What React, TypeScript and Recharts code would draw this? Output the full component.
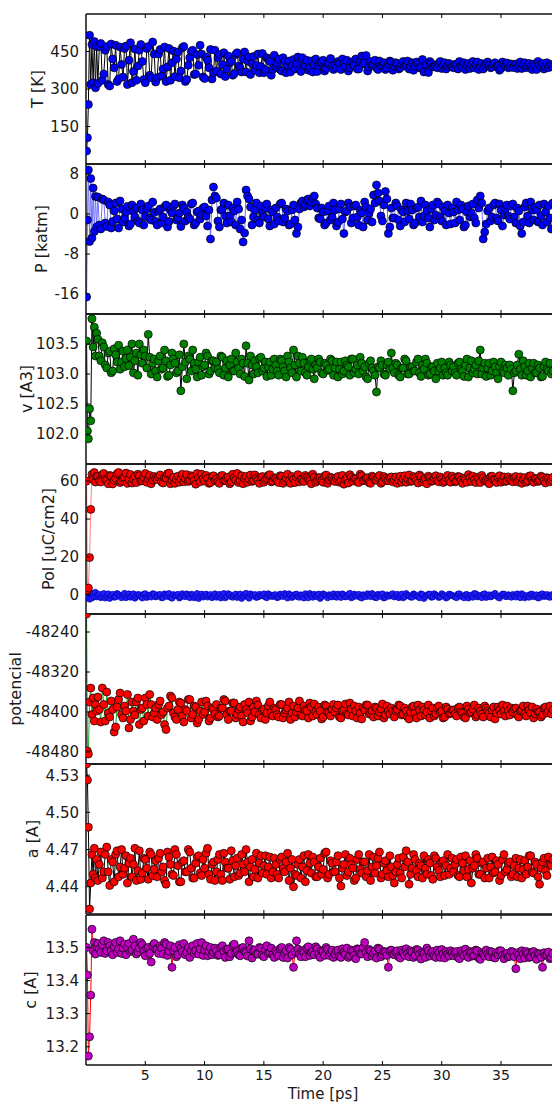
import React from 'react';
import { LineChart, Line, XAxis, YAxis } from 'recharts';

const FONT = '"DejaVu Sans", Verdana, sans-serif';
const W = 552;
const PLOT_H = 150;
const Y_AXIS_W = 86;
const T_MAX = 39.3;
const X_TICKS = [5, 10, 15, 20, 25, 30, 35];

// sample times: dense points in the first ps, then every 0.25 ps (+ the half-step samples in *_MID)
const EARLY_T = [0.05, 0.12, 0.2, 0.3, 0.4, 0.5, 0.6, 0.7, 0.8, 0.9];
const STEP_PS = 0.25;
const N_MAIN = 154;

const T_K = [
  52, 105, 238, 515, 318, 478, 325, 490, 305, 470,
  322, 482, 360, 470, 312, 420, 475, 340, 398, 462,
  318, 485, 370, 335, 455, 410, 325, 470, 345, 440,
  345, 458, 380, 330, 462, 405, 350, 448, 372, 470,
  338, 425, 455, 360, 395, 440, 342, 415, 458, 365,
  372, 438, 398, 350, 432, 410, 362, 445, 385, 420,
  368, 428, 402, 375, 440, 390, 365, 425, 410, 378,
  388, 420, 372, 410, 395, 368, 418, 400, 380, 425,
  392, 375, 412, 398, 370, 405, 415, 382, 400, 390,
  395, 410, 378, 402, 415, 385, 398, 420, 380, 432,
  405, 372, 410, 398, 385, 412, 395, 378, 400, 408,
  390, 402, 385, 410, 395, 380, 405, 392, 400, 385,
  368, 398, 410, 388, 395, 402, 382, 405, 392, 398,
  385, 400, 410, 390, 378, 402, 395, 385, 408, 392,
  380, 400, 396, 388, 405, 392, 382, 398, 404, 390,
  386, 400, 395, 382, 405, 392, 388, 400, 378, 396,
  402, 390, 385, 398,
];
const T_MID = [
  470, 335, 455, 318, 480, 385, 330, 468, 348, 472,
  415, 325, 460, 392, 478, 338, 462, 355, 488, 328,
  440, 352, 468, 388, 335, 452, 420, 345, 465, 330,
  395, 450, 358, 438, 475, 348, 428, 385, 340, 455,
  425, 360, 445, 380, 405, 355, 438, 392, 368, 448,
  412, 358, 430, 395, 365, 442, 378, 418, 355, 435,
  402, 378, 425, 365, 412, 392, 380, 428, 370, 398,
  415, 385, 368, 420, 395, 410, 372, 405, 422, 378,
  385, 402, 420, 390, 372, 408, 395, 380, 412, 400,
  434, 388, 395, 415, 378, 392, 405, 385, 412, 375,
  405, 380, 398, 392, 412, 388, 375, 408, 385, 418,
  395, 366, 402, 392, 385, 410, 395, 380, 402, 388,
  398, 380, 392, 405, 395, 382, 410, 398, 378, 402,
  392, 408, 385, 400, 390, 375, 408, 392, 385, 400,
  395, 382, 408, 398, 385, 402, 378, 392, 410, 388,
  380, 405, 395, 388,
];

const P_KATM = [
  -16.6, -1.2, 8.8, -5.5, 7.1, -4.8, 5.2, -3.5, 3.5, -2.6,
  3.4, -3.0, 2.8, -2.5, 1.8, -1.5, 2.2, -2.8, 1.0, -0.8,
  1.5, -2.0, 0.5, 1.2, -1.8, 0.8, -0.5, 1.6, -1.2, 0.3,
  -2.2, 1.0, -0.6, 1.8, -1.5, 0.2, 2.0, -0.8, -2.5, 1.2,
  0.4, -1.0, 2.2, -1.8, 0.6, -0.2, 1.4, -2.4, -5.0, 5.4,
  3.2, -2.6, 1.0, -0.4, 1.8, -1.6, 0.6, 2.4, -3.0, -5.6,
  4.8, 3.0, -2.2, 0.8, -1.2, 1.6, -0.6, 2.0, -2.4, 0.4,
  1.2, -1.4, 2.2, -0.8, 0.6, -2.0, 1.8, -3.9, 1.0, 2.6,
  1.8, 3.0, 2.4, 3.6, 1.2, -1.0, 0.4, -1.8, 1.6, -0.6,
  0.8, -1.6, 2.0, -3.9, 0.6, 1.4, -0.8, 1.8, -2.2, 0.2,
  2.4, -1.2, 1.0, 3.8, 5.8, 2.6, -1.4, 4.5, -3.9, 1.2,
  -0.8, 1.6, -2.4, 0.4, 2.2, -1.0, 0.8, -1.8, 1.4, 2.6,
  -0.4, 0.6, -2.6, 1.8, -0.2, 2.0, -1.4, 0.6, 1.8, -2.0,
  0.4, 2.4, -1.2, 1.0, -2.2, 1.6, 0.2, -0.8, 2.8, 3.6,
  -5.0, -2.0, 1.2, -0.6, 2.2, -1.4, 0.8, -0.2, 1.8, -1.0,
  2.0, -1.8, 0.6, -3.9, 1.4, -0.4, 2.4, -1.2, 0.8, 1.8,
  -2.2, 0.4, 1.6, -3.0,
];
const P_MID = [
  -2.2, 3.0, -1.8, 2.4, -2.8, 0.6, -1.0, 2.6, -1.6, 0.4,
  -2.4, 1.8, -0.6, -1.4, 2.0, -2.2, 1.0, -0.8, 2.4, -1.5,
  0.6, -1.8, 1.4, -2.6, 0.8, 1.6, -1.2, 0.2, 1.8, -1.4,
  -0.6, 2.0, -2.2, 0.4, -1.0, 1.2, -0.4, 0.8, 2.8, 3.6,
  -1.4, 0.8, 2.2, -1.8, -0.4, 1.2, -2.2, 1.0, -1.2, -3.8,
  3.6, 1.4, -0.6, 2.2, -1.8, 0.2, 1.2, -1.0, 0.8, -2.0,
  -0.6, 2.0, -1.6, 1.0, -2.2, 0.8, -1.2, -2.6, 2.2, 1.4,
  2.8, 1.6, 3.2, 2.0, -0.8, 1.2, -2.2, 0.6, -1.2, 2.2,
  -2.4, 1.0, -1.0, 0.4, 2.2, -1.8, 1.6, -0.6, 0.8, -2.6,
  1.4, 0.2, -1.6, 2.2, 4.2, -0.4, 1.8, 3.0, -2.6, -0.8,
  2.2, -1.2, 0.8, -1.6, 0.6, 2.0, -2.2, 1.2, -0.6, -1.6,
  1.8, -0.8, 1.0, -1.2, 2.4, -0.6, 1.4, -2.2, 0.2, 1.2,
  -1.8, 0.8, 1.8, -2.6, 0.4, -0.6, 2.0, -1.8, 1.2, 2.2,
  -3.6, 0.6, -1.4, 1.8, -0.8, 2.0, -2.4, 1.0, -0.4, 1.6,
  -0.6, 1.2, -2.4, -1.6, 2.2, -1.8, 0.8, 1.4, -1.6, -0.4,
  2.0, -1.6, -0.8, 2.2,
];

const V_A3 = [
  103.55, 102.05, 101.92, 102.42, 102.22, 103.92, 103.45, 103.78, 103.3, 103.68,
  103.58, 103.22, 103.45, 103.1, 103.38, 103.05, 103.32, 103.48, 103.2, 103.12,
  103.4, 103.28, 103.02, 103.35, 103.5, 103.18, 103.3, 103.66, 103.0, 103.25,
  102.95, 103.3, 103.1, 103.22, 102.98, 103.35, 103.18, 103.05, 102.72, 103.5,
  102.92, 103.25, 103.4, 103.08, 103.2, 102.98, 103.15, 103.3, 103.05, 103.22,
  103.2, 103.02, 103.28, 103.1, 102.95, 103.25, 103.05, 103.2, 103.0, 103.18,
  103.47, 102.9, 103.15, 103.22, 103.02, 103.28, 103.1, 102.96, 103.2, 103.08,
  103.15, 102.98, 103.22, 103.05, 103.3, 103.1, 103.4, 102.95, 103.18, 103.28,
  103.02, 103.12, 103.25, 102.92, 103.1, 103.2, 103.0, 103.15, 103.08, 103.22,
  103.1, 102.95, 103.2, 103.05, 103.15, 102.98, 103.25, 103.08, 103.0, 103.18,
  103.12, 102.92, 103.22, 103.05, 102.7, 103.1, 103.15, 102.98, 103.2, 103.35,
  103.02, 103.15, 102.95, 103.1, 103.22, 103.0, 103.12, 103.05, 103.25, 102.96,
  103.08, 103.18, 103.0, 103.12, 102.92, 103.05, 103.2, 103.1, 102.98, 103.15,
  103.12, 102.98, 103.2, 103.05, 103.15, 102.95, 103.22, 103.08, 103.0, 103.4,
  103.1, 102.96, 103.18, 103.05, 103.12, 102.92, 103.2, 103.02, 103.1, 103.15,
  102.72, 103.05, 103.33, 102.98, 103.12, 103.05, 102.95, 103.18, 103.02, 103.1,
  102.96, 103.2, 103.05, 103.0,
];
const V_MID = [
  103.3, 103.52, 103.15, 103.35, 103.02, 103.42, 103.2, 103.08, 103.38, 103.26,
  103.14, 103.5, 103.22, 102.98, 103.32, 103.4, 103.1, 103.28, 103.18, 103.05,
  103.22, 103.08, 103.4, 102.96, 103.15, 103.25, 103.02, 103.32, 103.12, 103.2,
  103.3, 103.05, 103.18, 102.95, 103.28, 103.12, 103.35, 103.0, 103.22, 103.1,
  103.08, 103.3, 102.98, 103.22, 103.15, 103.05, 103.35, 103.1, 103.25, 102.96,
  103.18, 103.3, 103.0, 103.12, 103.26, 103.05, 103.2, 103.12, 102.98, 103.25,
  103.05, 103.25, 103.12, 102.95, 103.2, 103.02, 103.15, 103.3, 103.05, 103.18,
  102.98, 103.22, 103.08, 103.15, 103.25, 103.02, 103.18, 103.06, 103.25, 102.98,
  103.2, 103.08, 103.0, 103.22, 103.12, 103.25, 103.02, 103.15, 103.28, 103.05,
  102.95, 103.18, 103.1, 102.98, 103.12, 103.22, 103.0, 103.15, 103.08, 103.1,
  103.18, 102.98, 103.1, 103.25, 103.0, 103.12, 103.05, 103.2, 103.02, 103.15,
  103.25, 102.98, 103.12, 103.05, 103.18, 103.1, 102.98, 103.02, 103.2, 103.05,
  103.02, 103.18, 103.08, 102.96, 103.25, 103.1, 103.02, 103.15, 103.22, 103.0,
  103.18, 103.1, 102.98, 103.2, 103.02, 103.12, 103.05, 103.15, 102.98, 103.08,
  103.02, 103.15, 103.08, 103.22, 102.98, 103.18, 103.1, 103.02, 103.15, 102.95,
  103.12, 103.08, 103.18, 103.05,
];

const POL_Z = [
  60, 2.5, 3.7, 19.7, 45.1, 63.5, 61, 64.5, 59.5, 62.5,
  62.5, 59.5, 64, 60.5, 63, 58.5, 61.5, 64.5, 60, 62,
  58.8, 63.5, 61, 59.2, 62.8, 60.2, 64, 61.2, 58.6, 62.4,
  60.8, 63.2, 59, 61.6, 64.2, 60.4, 58.8, 62.6, 61, 59.6,
  63.4, 60.6, 62.2, 58.4, 61.8, 63.6, 60, 61.4, 59.2, 62.8,
  61.2, 58.8, 63, 60.4, 62.2, 59.6, 61.8, 64, 60.2, 58.6,
  62.4, 61, 59.8, 63.2, 60.6, 62, 59.4, 61.6, 63.4, 60,
  61.4, 59.2, 62.6, 60.2, 63.6, 58.8, 61, 62.2, 59.6, 60.8,
  63, 61.2, 58.6, 62, 60.4, 61.8, 59.4, 63.2, 60.6, 61.6,
  59.8, 62.4, 60.2, 58.4, 61.6, 63.4, 60, 61.2, 59.2, 62.8,
  60.6, 61.8, 58.8, 62, 60.4, 63, 59.6, 61.4, 60.2, 62.2,
  60.6, 58.8, 62.6, 61, 59.4, 63.2, 60.2, 61.6, 59, 62.4,
  60.8, 58.6, 61.8, 60.4, 62.8, 59.6, 61.2, 60, 63, 59.4,
  61.4, 60, 62.2, 58.8, 61, 63.4, 59.8, 60.6, 62, 59.2,
  61.6, 60.4, 58.6, 62.6, 60.8, 61.8, 59.4, 62.2, 60.2, 61,
  59.6, 62.4, 60.6, 58.8, 61.8, 60.2, 62.8, 59.4, 61.2, 60.4,
  62, 59, 61.4, 60.6,
];
const POL_Z_MID = [
  60.2, 63.4, 61, 58.6, 62.6, 60.4, 63.8, 59.2, 61.6, 64.2,
  60.8, 59, 62.4, 63.6, 60, 61.8, 59.4, 63, 60.6, 61.4,
  62.2, 59.6, 61.8, 63.8, 58.6, 62, 60.8, 59.4, 63.6, 61.2,
  59.8, 62.8, 60.2, 64, 59.6, 61.2, 63, 58.8, 62.4, 60.4,
  59.6, 62.6, 60.2, 61.8, 58.6, 63.6, 60.6, 59.2, 62.8, 61.4,
  59.4, 63.2, 60.4, 61.6, 58.8, 62.4, 60.8, 63, 59.6, 61.8,
  60.2, 62.8, 58.8, 61.6, 60, 62.4, 59.2, 63.4, 61, 59.8,
  62, 60.4, 63.6, 59.4, 61.8, 60.2, 62.6, 58.8, 62, 60.6,
  61.6, 59.4, 63, 60.8, 59, 62.2, 61.4, 59.6, 63.6, 60.2,
  61.6, 59.2, 62.6, 60.6, 61.8, 58.8, 62.4, 60.2, 61.8, 59.6,
  62.2, 60.6, 59.4, 62.8, 61.2, 59.8, 62.4, 60.4, 63.2, 59.6,
  61.4, 62.6, 59.8, 61.6, 60.2, 62.2, 59.2, 61.8, 60.6, 62.6,
  59.6, 62.4, 60.4, 61.6, 59.4, 61.8, 62.6, 59.2, 61.2, 63,
  60.2, 59.6, 62.4, 60.6, 59.2, 62.8, 60.6, 59.8, 62.2, 60.4,
  61.8, 59.6, 62.2, 61, 59.4, 62.6, 60.4, 61.4, 59.8, 62.6,
  60.2, 61.8, 59.6, 62,
];

const POL_X = [
  0.5, -1.2, 3.8, -2.2, 1.2, -1.6, 0.6, -0.9, 1.4, -1.0,
  -0.2, -1.4, 0.8, -0.6, -1.8, 0.4, -1.0, 0.2, -1.5, 0.9,
  -0.4, -1.2, 0.6, -0.8, 0.1, -1.6, 0.7, -0.3, -1.1, 0.5,
  -0.7, 0.3, -1.3, -0.1, 0.8, -1.7, -0.5, 0.4, -1.0, -0.2,
  0.6, -1.4, 0.2, -0.8, -1.9, 0.5, -0.4, -1.1, 0.3, -0.6,
  -1.2, 0.4, -0.3, -1.5, 0.7, -0.9, -0.1, -1.3, 0.5, -0.6,
  0.9, -1.7, -0.2, 0.3, -1.0, -0.5, 0.6, -1.4, 0.1, -0.8,
  0.2, -1.1, -0.4, 0.8, -1.6, 0.0, -0.7, 0.5, -1.2, -0.3,
  0.7, -1.5, -0.1, 0.4, -0.9, -1.8, 0.6, -0.5, 0.2, -1.0,
  -0.6, 0.5, -1.3, 0.1, -0.8, 0.9, -1.1, -0.2, 0.4, -1.6,
  -0.4, 0.7, -0.9, 0.2, -1.4, -0.1, 0.6, -1.2, -0.5, 0.3,
  -1.0, 0.4, -0.6, -1.5, 0.8, -0.3, -1.2, 0.2, -0.7, 0.6,
  -1.8, -0.2, 0.5, -1.0, 0.0, -1.3, 0.7, -0.5, -1.1, 0.3,
  -0.4, -1.4, 0.6, -0.8, 0.2, -1.6, -0.1, 0.8, -1.0, -0.5,
  0.4, -1.3, 0.1, -0.7, 0.9, -1.2, -0.3, 0.5, -0.9, -0.2,
  0.3, -1.1, -0.6, 0.7, -1.5, -0.2, 0.4, -0.9, 0.1, -1.3,
  0.6, -0.5, -1.0, 0.2,
];
const POL_X_MID = [
  0.4, -0.9, -1.6, 0.6, -0.3, -1.2, 0.8, -0.7, 0.1, -1.4,
  0.6, -0.5, -1.7, 0.3, -0.9, 0.5, -1.3, -0.1, 0.7, -1.0,
  0.2, -1.5, 0.6, -0.8, -1.2, 0.3, -0.2, -1.6, 0.7, -0.9,
  -0.3, 0.4, -1.5, 0.8, -0.6, -1.1, 0.5, -0.2, -1.4, 0.6,
  -0.4, -1.6, 0.8, -0.7, 0.2, -1.2, 0.5, -0.5, -1.8, 0.3,
  -1.0, 0.6, -0.6, -1.3, 0.4, -0.2, -1.1, 0.7, -0.7, 0.1,
  -1.4, 0.5, -0.8, -0.2, 0.6, -1.3, 0.3, -1.0, 0.1, -1.6,
  -0.4, 0.8, -1.2, -0.5, 0.5, -0.9, 0.2, -1.5, -0.3, 0.6,
  -1.2, -0.3, 0.6, -1.0, 0.3, -1.5, 0.5, -0.7, -1.2, 0.2,
  -0.9, -0.2, 0.8, -1.3, 0.4, -0.8, -1.6, 0.1, -0.6, 0.7,
  -0.3, -1.4, 0.5, -0.9, -0.2, -1.1, 0.6, -0.6, -1.5, 0.3,
  -0.8, 0.4, -1.2, 0.7, -0.5, -1.0, 0.2, -1.6, 0.5, -0.4,
  -1.1, 0.5, -0.7, -1.5, 0.3, -0.4, -1.2, 0.6, -0.2, -1.4,
  0.7, -0.6, -1.0, 0.4, -0.3, -1.6, 0.5, -0.8, 0.2, -1.2,
  -0.5, 0.6, -1.4, 0.1, -0.7, -1.2, 0.5, -0.3, -1.6, 0.4,
  -0.8, 0.3, -1.2, -0.4,
];

const POTENCIAL = [
  -48204, -48478, -48484, -48380, -48352, -48405, -48372, -48418, -48385, -48398,
  -48370, -48420, -48385, -48360, -48410, -48395, -48430, -48375, -48405, -48388,
  -48365, -48415, -48398, -48380, -48425, -48392, -48372, -48408, -48385, -48402,
  -48415, -48378, -48400, -48435, -48388, -48372, -48410, -48395, -48382, -48420,
  -48398, -48375, -48405, -48390, -48415, -48380, -48400, -48388, -48412, -48395,
  -48385, -48408, -48392, -48378, -48415, -48398, -48382, -48405, -48390, -48420,
  -48395, -48380, -48410, -48400, -48386, -48412, -48394, -48402, -48380, -48408,
  -48395, -48410, -48385, -48402, -48392, -48415, -48388, -48400, -48378, -48408,
  -48396, -48412, -48390, -48384, -48405, -48398, -48410, -48388, -48402, -48394,
  -48400, -48386, -48412, -48395, -48404, -48382, -48408, -48398, -48390, -48414,
  -48396, -48386, -48402, -48410, -48392, -48400, -48384, -48406, -48398, -48392,
  -48410, -48395, -48388, -48404, -48398, -48414, -48390, -48402, -48386, -48408,
  -48396, -48400, -48412, -48392, -48404, -48388, -48398, -48410, -48394, -48402,
  -48396, -48408, -48390, -48402, -48412, -48394, -48400, -48386, -48406, -48398,
  -48410, -48392, -48402, -48396, -48414, -48390, -48404, -48398, -48388, -48406,
  -48400, -48392, -48410, -48396, -48404, -48388, -48402, -48412, -48394, -48400,
  -48406, -48390, -48398, -48404,
];
const POTENCIAL_MID = [
  -48395, -48352, -48418, -48402, -48378, -48440, -48390, -48362, -48412, -48398,
  -48432, -48380, -48406, -48372, -48395, -48418, -48385, -48365, -48410, -48392,
  -48385, -48405, -48425, -48392, -48368, -48402, -48415, -48380, -48408, -48395,
  -48375, -48412, -48388, -48422, -48398, -48405, -48378, -48418, -48392, -48404,
  -48410, -48392, -48375, -48405, -48398, -48382, -48412, -48395, -48408, -48385,
  -48402, -48418, -48390, -48378, -48405, -48396, -48415, -48388, -48400, -48392,
  -48405, -48385, -48412, -48396, -48380, -48402, -48410, -48392, -48406, -48388,
  -48398, -48382, -48408, -48400, -48390, -48414, -48386, -48400, -48408, -48385,
  -48392, -48410, -48398, -48384, -48406, -48394, -48388, -48412, -48402, -48392,
  -48386, -48404, -48398, -48390, -48408, -48394, -48412, -48388, -48404, -48398,
  -48398, -48386, -48406, -48392, -48410, -48400, -48388, -48412, -48396, -48390,
  -48406, -48386, -48398, -48408, -48392, -48400, -48412, -48390, -48404, -48396,
  -48404, -48392, -48400, -48410, -48388, -48402, -48394, -48410, -48392, -48404,
  -48388, -48398, -48410, -48390, -48402, -48396, -48386, -48408, -48398, -48392,
  -48394, -48406, -48398, -48388, -48408, -48396, -48390, -48404, -48400, -48410,
  -48392, -48402, -48388, -48396,
];

const A_ANG = [
  4.539, 4.526, 4.488, 4.422, 4.443, 4.466, 4.45, 4.471, 4.447, 4.462,
  4.445, 4.468, 4.452, 4.472, 4.441, 4.46, 4.466, 4.448, 4.47, 4.455,
  4.443, 4.463, 4.458, 4.445, 4.469, 4.451, 4.462, 4.446, 4.466, 4.454,
  4.448, 4.467, 4.456, 4.442, 4.464, 4.45, 4.47, 4.457, 4.444, 4.461,
  4.452, 4.468, 4.447, 4.459, 4.465, 4.449, 4.455, 4.471, 4.446, 4.46,
  4.452, 4.466, 4.445, 4.46, 4.455, 4.469, 4.448, 4.463, 4.451, 4.458,
  4.47, 4.444, 4.462, 4.454, 4.447, 4.465, 4.457, 4.45, 4.464, 4.452,
  4.458, 4.447, 4.464, 4.452, 4.467, 4.455, 4.44, 4.449, 4.462, 4.456,
  4.444, 4.466, 4.451, 4.46, 4.448, 4.463, 4.454, 4.468, 4.45, 4.459,
  4.452, 4.465, 4.4405, 4.458, 4.449, 4.463, 4.455, 4.447, 4.466, 4.451,
  4.46, 4.453, 4.445, 4.464, 4.457, 4.468, 4.45, 4.461, 4.448, 4.456,
  4.443, 4.458, 4.451, 4.464, 4.469, 4.442, 4.455, 4.462, 4.448, 4.457,
  4.465, 4.45, 4.459, 4.446, 4.463, 4.453, 4.46, 4.449, 4.466, 4.455,
  4.452, 4.462, 4.448, 4.459, 4.465, 4.454, 4.443, 4.457, 4.463, 4.45,
  4.46, 4.455, 4.447, 4.464, 4.452, 4.458, 4.449, 4.466, 4.454, 4.46,
  4.45, 4.463, 4.455, 4.447, 4.461, 4.456, 4.465, 4.451, 4.458, 4.442,
  4.46, 4.453, 4.464, 4.457,
];
const A_MID = [
  4.458, 4.447, 4.466, 4.452, 4.462, 4.444, 4.469, 4.456, 4.45, 4.465,
  4.459, 4.448, 4.471, 4.453, 4.446, 4.463, 4.455, 4.468, 4.449, 4.461,
  4.463, 4.452, 4.445, 4.468, 4.458, 4.449, 4.466, 4.444, 4.46, 4.452,
  4.47, 4.455, 4.447, 4.464, 4.451, 4.462, 4.467, 4.45, 4.458, 4.445,
  4.462, 4.45, 4.467, 4.455, 4.446, 4.461, 4.457, 4.449, 4.466, 4.452,
  4.46, 4.456, 4.448, 4.467, 4.459, 4.451, 4.465, 4.456, 4.447, 4.463,
  4.45, 4.462, 4.455, 4.46, 4.445, 4.462, 4.45, 4.458, 4.447, 4.465,
  4.453, 4.459, 4.464, 4.448, 4.456, 4.45, 4.467, 4.447, 4.461, 4.452,
  4.46, 4.447, 4.455, 4.466, 4.452, 4.458, 4.445, 4.462, 4.454, 4.46,
  4.448, 4.466, 4.456, 4.451, 4.463, 4.447, 4.459, 4.453, 4.465, 4.449,
  4.452, 4.463, 4.447, 4.456, 4.46, 4.45, 4.466, 4.453, 4.459, 4.447,
  4.455, 4.462, 4.449, 4.465, 4.456, 4.448, 4.461, 4.457, 4.45, 4.463,
  4.458, 4.449, 4.464, 4.453, 4.448, 4.461, 4.455, 4.466, 4.45, 4.459,
  4.447, 4.463, 4.456, 4.451, 4.461, 4.445, 4.462, 4.452, 4.459, 4.448,
  4.457, 4.448, 4.462, 4.454, 4.45, 4.465, 4.452, 4.46, 4.448, 4.455,
  4.463, 4.449, 4.458, 4.462,
];

const C_ANG = [
  13.5, 13.417, 13.172, 13.23, 13.356, 13.555, 13.49, 13.515, 13.48, 13.505,
  13.512, 13.485, 13.52, 13.49, 13.505, 13.478, 13.515, 13.495, 13.482, 13.51,
  13.5, 13.488, 13.525, 13.48, 13.498, 13.508, 13.475, 13.5, 13.456, 13.512,
  13.495, 13.505, 13.48, 13.51, 13.488, 13.44, 13.5, 13.478, 13.498, 13.512,
  13.485, 13.47, 13.505, 13.49, 13.48, 13.515, 13.492, 13.475, 13.5, 13.486,
  13.49, 13.478, 13.505, 13.47, 13.495, 13.482, 13.51, 13.488, 13.475, 13.5,
  13.485, 13.52, 13.468, 13.492, 13.48, 13.498, 13.472, 13.505, 13.486, 13.478,
  13.49, 13.475, 13.5, 13.482, 13.468, 13.495, 13.44, 13.52, 13.48, 13.49,
  13.472, 13.502, 13.485, 13.478, 13.496, 13.47, 13.488, 13.5, 13.476, 13.492,
  13.48, 13.492, 13.47, 13.486, 13.498, 13.475, 13.488, 13.466, 13.494, 13.48,
  13.515, 13.472, 13.49, 13.482, 13.468, 13.495, 13.478, 13.486, 13.44, 13.492,
  13.478, 13.49, 13.468, 13.484, 13.496, 13.472, 13.486, 13.476, 13.492, 13.465,
  13.482, 13.498, 13.474, 13.488, 13.47, 13.484, 13.494, 13.468, 13.48, 13.49,
  13.475, 13.488, 13.466, 13.482, 13.495, 13.47, 13.484, 13.476, 13.49, 13.464,
  13.48, 13.492, 13.472, 13.486, 13.468, 13.478, 13.49, 13.466, 13.482, 13.474,
  13.486, 13.436, 13.478, 13.49, 13.468, 13.482, 13.472, 13.488, 13.464, 13.48,
  13.44, 13.476, 13.486, 13.47,
];
const C_MID = [
  13.495, 13.508, 13.482, 13.515, 13.49, 13.502, 13.485, 13.52, 13.498, 13.478,
  13.512, 13.492, 13.505, 13.486, 13.515, 13.49, 13.498, 13.482, 13.505, 13.495,
  13.482, 13.498, 13.515, 13.476, 13.505, 13.49, 13.472, 13.508, 13.488, 13.478,
  13.5, 13.49, 13.482, 13.512, 13.495, 13.476, 13.505, 13.488, 13.478, 13.498,
  13.476, 13.5, 13.488, 13.495, 13.472, 13.506, 13.484, 13.478, 13.498, 13.488,
  13.474, 13.496, 13.49, 13.48, 13.5, 13.476, 13.494, 13.482, 13.498, 13.47,
  13.482, 13.496, 13.47, 13.49, 13.5, 13.478, 13.488, 13.495, 13.472, 13.485,
  13.498, 13.476, 13.49, 13.502, 13.48, 13.49, 13.476, 13.494, 13.484, 13.47,
  13.488, 13.474, 13.496, 13.48, 13.47, 13.492, 13.476, 13.496, 13.482, 13.5,
  13.486, 13.494, 13.474, 13.49, 13.498, 13.472, 13.488, 13.476, 13.49, 13.48,
  13.486, 13.472, 13.492, 13.476, 13.482, 13.49, 13.47, 13.494, 13.48, 13.486,
  13.47, 13.49, 13.484, 13.476, 13.492, 13.47, 13.48, 13.488, 13.474, 13.484,
  13.484, 13.47, 13.49, 13.476, 13.48, 13.488, 13.474, 13.492, 13.468, 13.484,
  13.474, 13.48, 13.488, 13.47, 13.484, 13.49, 13.476, 13.48, 13.472, 13.488,
  13.472, 13.484, 13.466, 13.48, 13.488, 13.47, 13.486, 13.476, 13.482, 13.47,
  13.484, 13.478, 13.466, 13.482,
];

type Series = {
  key: string; values: number[]; mid: number[];
  fill: string; line: string; r?: number; edge?: string;
};

function buildRows(series: Series[]) {
  const rows: Record<string, number>[] = [];
  EARLY_T.forEach((t, i) => {
    const row: Record<string, number> = { t };
    series.forEach((s) => { row[s.key] = s.values[i]; });
    rows.push(row);
  });
  for (let k = 0; k < N_MAIN; k++) {
    const a: Record<string, number> = { t: 1 + k * STEP_PS };
    const b: Record<string, number> = { t: 1 + STEP_PS / 2 + k * STEP_PS };
    series.forEach((s) => {
      a[s.key] = s.values[k + EARLY_T.length];
      b[s.key] = s.mid[k];
    });
    rows.push(a, b);
  }
  return rows;
}

function XTick(props: any) {
  const { x, y, payload, dir, showLabel } = props;
  return (
    <g>
      <line x1={x} x2={x} y1={y} y2={y + dir * 4} stroke="#000" strokeWidth={1} />
      {showLabel && (
        <text x={x} y={y + 15} textAnchor="middle" fontSize={14} fontFamily={FONT} fill="#1a1a1a">
          {payload.value}
        </text>
      )}
    </g>
  );
}

function YTick(props: any) {
  const { x, y, payload, fmt } = props;
  return (
    <g>
      <line x1={x} x2={x + 4} y1={y} y2={y} stroke="#000" strokeWidth={1} />
      <text x={x - 7} y={y} dy="0.36em" textAnchor="end" fontSize={15} fontFamily={FONT} fill="#1a1a1a">
        {fmt(payload.value)}
      </text>
    </g>
  );
}

function YLabel(props: any) {
  const { lx, ly, txt } = props;
  return (
    <text x={lx} y={ly} dy="0.36em" textAnchor="middle" fontSize={16} fontFamily={FONT} fill="#1a1a1a"
      transform={`rotate(-90, ${lx}, ${ly})`}>
      {txt}
    </text>
  );
}

function XLabel(props: any) {
  const { ly } = props;
  return (
    <text x={323} y={ly} textAnchor="middle" fontSize={15} fontFamily={FONT} fill="#1a1a1a">
      Time [ps]
    </text>
  );
}

const MT = 10;

function Panel(props: {
  top: number; label: string; labelX: number; domain: [number, number];
  ticks: number[]; fmt: (v: number) => string; series: Series[]; last?: boolean;
}) {
  const { top, label, labelX, domain, ticks, fmt, series, last } = props;
  const mb = last ? 45 : 3;
  const data = buildRows(series);
  const border = { stroke: '#111', strokeWidth: 1.5 };
  // the two x axes take 1px each, so the margins are reduced by 1px to keep the plot box in place
  return (
    <div style={{ position: 'absolute', left: 0, top: top - MT }}>
      <LineChart width={W} height={MT + PLOT_H + mb} data={data}
        margin={{ top: MT - 1, right: 0, bottom: mb - 1, left: 0 }}>
        <XAxis
          xAxisId="b" dataKey="t" type="number" domain={[0, T_MAX]} allowDataOverflow
          ticks={X_TICKS} interval={0} height={1} tickSize={0} tickMargin={0} tickLine={false}
          axisLine={border} tick={<XTick dir={-1} showLabel={!!last} />}
          label={last ? <XLabel ly={MT + PLOT_H + 34} /> : undefined}
        />
        <XAxis
          xAxisId="t" orientation="top" dataKey="t" type="number" domain={[0, T_MAX]} allowDataOverflow
          ticks={X_TICKS} interval={0} height={1} tickSize={0} tickMargin={0} tickLine={false}
          axisLine={border} tick={<XTick dir={1} showLabel={false} />}
        />
        <YAxis
          type="number" domain={domain} allowDataOverflow ticks={ticks} interval={0}
          width={Y_AXIS_W} tickSize={0} tickMargin={0} tickLine={false} axisLine={border}
          tick={<YTick fmt={fmt} />}
          label={<YLabel lx={labelX} ly={MT + PLOT_H / 2} txt={label} />}
        />
        {series.map((s) => (
          <Line
            key={s.key} xAxisId="b" type="linear" dataKey={s.key} stroke={s.line} strokeWidth={1}
            dot={{ r: s.r ?? 4, fill: s.fill, stroke: s.edge ?? '#000', strokeWidth: 0.7, fillOpacity: 1 }}
            activeDot={false} isAnimationActive={false}
          />
        ))}
      </LineChart>
    </div>
  );
}

export default function App() {
  return (
    <div style={{ position: 'absolute', left: 0, top: 0, width: W, height: 1105, background: '#fff' }}>
      <Panel top={14} label="T [K]" labelX={37} domain={[0, 600]} ticks={[150, 300, 450]}
        fmt={(v) => String(v)}
        series={[{ key: 'T', values: T_K, mid: T_MID, fill: '#0000ff', line: '#000' }]} />
      <Panel top={164} label="P [katm]" labelX={41} domain={[-20, 10]} ticks={[-16, -8, 0, 8]}
        fmt={(v) => String(v)}
        series={[{ key: 'P', values: P_KATM, mid: P_MID, fill: '#0000ff', line: '#7070ff' }]} />
      <Panel top={314} label="v [A3]" labelX={26} domain={[101.5, 104.0]} ticks={[102.0, 102.5, 103.0, 103.5]}
        fmt={(v) => v.toFixed(1)}
        series={[{ key: 'v', values: V_A3, mid: V_MID, fill: '#008000', line: '#000' }]} />
      <Panel top={464} label="Pol [uC/cm2]" labelX={48} domain={[-10, 69]} ticks={[0, 20, 40, 60]}
        fmt={(v) => String(v)}
        series={[
          { key: 'px', values: POL_X, mid: POL_X_MID, fill: '#1f1fff', line: '#000', r: 3, edge: '#0000aa' },
          { key: 'pz', values: POL_Z, mid: POL_Z_MID, fill: '#ff0000', line: '#ff8080' },
        ]} />
      <Panel top={614} label="potencial" labelX={15} domain={[-48504, -48204]} ticks={[-48480, -48400, -48320, -48240]}
        fmt={(v) => String(v)}
        series={[{ key: 'e', values: POTENCIAL, mid: POTENCIAL_MID, fill: '#ff0000', line: '#22aa22' }]} />
      <Panel top={764} label="a [A]" labelX={32} domain={[4.418, 4.539]} ticks={[4.44, 4.47, 4.5, 4.53]}
        fmt={(v) => v.toFixed(2)}
        series={[{ key: 'a', values: A_ANG, mid: A_MID, fill: '#ff0000', line: '#000' }]} />
      <Panel top={915} label="c [A]" labelX={30} domain={[13.145, 13.598]} ticks={[13.2, 13.3, 13.4, 13.5]}
        fmt={(v) => v.toFixed(1)} last
        series={[{ key: 'c', values: C_ANG, mid: C_MID, fill: '#bf00bf', line: '#ff0000' }]} />
    </div>
  );
}
